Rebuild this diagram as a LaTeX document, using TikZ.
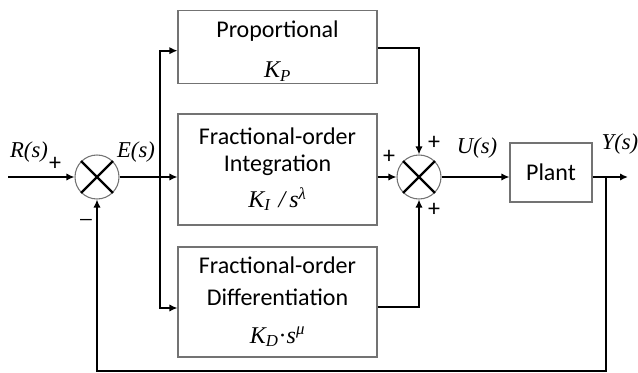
\documentclass[tikz,border=0pt]{standalone}
\usepackage{fontspec}
\setmainfont{Carlito}
\newfontfamily\tnr{Liberation Serif}
\usetikzlibrary{arrows.meta}
\newcommand{\mv}[1]{{\tnr\itshape #1}}

\begin{document}
\begin{tikzpicture}[x=0.75pt,y=-0.75pt,line width=1.5pt,>={Latex[length=6pt,width=5.5pt]},
  blk/.style={draw=black!55,line width=0.8pt,minimum width=149.25pt,align=center,inner sep=0pt,font=\fontsize{18}{20}\selectfont},
  sumc/.style={circle,draw=black!55,line width=0.8pt,minimum size=33pt,inner sep=0pt},
  lbl/.style={font=\fontsize{17}{20}\selectfont\tnr\itshape},
  sgn/.style={font=\fontsize{18}{20}\selectfont}]
  \useasboundingbox (0,0) rectangle (638,373);
  % sumadores
  \node[sumc] (s1) at (97,177) {};
  \node[sumc] (s2) at (419,177) {};
  \foreach \s in {s1,s2}{
    \draw[line width=1.8pt] (\s.45) -- (\s.225) (\s.135) -- (\s.315);}
  % bloques P, I, D y planta
  \node[blk,minimum height=54.75pt] (prop) at (277.5,46.7)
    {\rule{0pt}{19pt}Proportional\\[10pt]{\fontsize{18}{20}\selectfont\mv{K}\textsubscript{\mv{P}}}};
  \node[blk,minimum height=83.25pt] (int) at (277.5,169.5)
    {Fractional-order\\Integration\\[7pt]{\fontsize{18}{20}\selectfont\mv{K}\textsubscript{\mv{I}}\,\,\mv{/}\,\mv{s}\textsuperscript{\mv{λ}}}};
  \node[blk,minimum height=82.5pt] (diff) at (277.5,302)
    {Fractional-order\\[4pt]Differentiation\\[8pt]{\fontsize{18}{20}\selectfont\mv{K}\textsubscript{\mv{D}}{\tnr·}\mv{s}\textsuperscript{\mv{μ}}}};
  \node[blk,minimum width=61.5pt,minimum height=44.25pt] (plant) at (551,172.5) {Plant};
  % puntos libres
  \coordinate (in) at (8,177);
  \coordinate (br) at (160,177);
  \coordinate (fb) at (606,177);
  \coordinate (out) at (628,177);
  \coordinate (bot) at (0,371);
  % conexiones
  \draw[->] (in) -- (s1.west);
  \draw[->] (s1.east) -- (s1.east -| int.west);
  \draw[->] (br) |- ([yshift=-3pt]prop.west);
  \draw[->] (br) |- ([yshift=-4.5pt]diff.west);
  \draw[->] ([yshift=-1pt]prop.east) -| (s2.north);
  \draw[->] (s2.west -| int.east) -- (s2.west);
  \draw[->] ([yshift=-3.75pt]diff.east) -| (s2.south);
  \draw[->] (s2.east) -- (s2.east -| plant.west);
  \draw[->] (s2.east -| plant.east) -- (out);
  \draw[->] (fb) -- (fb |- bot) -| (s1.south);
  % senales
  \node[lbl] (R) at (29,152) {R(s)};
  \node[lbl] (E) at (136,152) {E(s)};
  \node[lbl] (U) at (477,148) {U(s)};
  \node[lbl] (Y) at (620,144) {Y(s)};
  % signos
  \node[sgn] (p1) at (55,164) {+};
  \node[sgn,font=\fontsize{19}{20}\selectfont\tnr] (m1) at (86,224) {−};
  \node[sgn] (p2) at (389,157) {+};
  \node[sgn] (p3) at (434,143) {+};
  \node[sgn] (p4) at (434,210) {+};
\end{tikzpicture}
\end{document}
